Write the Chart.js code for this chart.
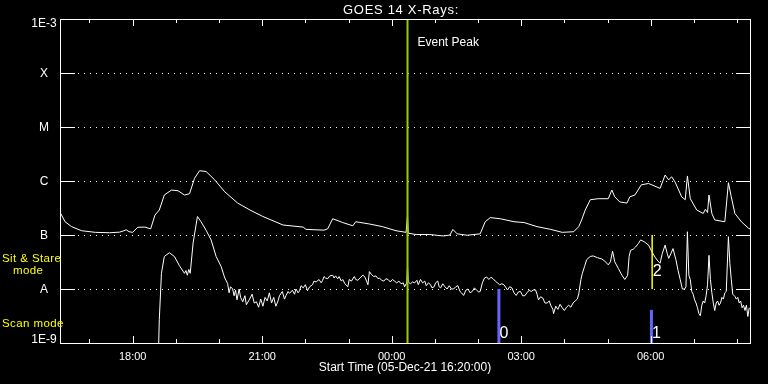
<!DOCTYPE html>
<html><head><meta charset="utf-8">
<script src="https://cdn.jsdelivr.net/npm/chart.js@4/dist/chart.umd.min.js"></script>
<style>html,body{margin:0;padding:0;background:#000;}#wrap{width:768px;height:384px;}</style>
</head><body><div id="wrap"><canvas id="c" width="768" height="384"></canvas></div>
<script>
const titleText = "GOES 14 X-Rays:";
const axisTitle = "Start Time (05-Dec-21 16:20:00)";
// time axis: minutes after 16:20 on 05-Dec-21
const xMajorTicks = [100, 280, 460, 640, 820];
const xTickLabels = ["18:00", "21:00", "00:00", "03:00", "06:00"];
const xMinorTicks = [40,160,220,340,400,520,580,700,760,880,940];
const yTickValues = [1e-9, 1e-8, 1e-7, 1e-6, 1e-5, 1e-4, 1e-3];
const yTickLabels = ["1E-9", "A", "B", "C", "M", "X", "1E-3"];
const modeLabels = ["Sit & Stare", "mode", "Scan mode"];

// GOES long channel (1-8 A), W/m^2
const longTimes = [0,6,15,29,48,68,82,88,91,95,100,107,117,125,131,137,144,154,163,172,179,186,193,202,214,228,246,263,281,309,337,341,366,371,378,392,406,410,429,447,466,480,481,482,483,494,513,532,541,545,551,565,583,590,597,611,630,644,662,681,697,713,720,724,729,736,747,761,766,770,777,787,791,798,807,817,833,840,845,849,854,863,868,871,875,884,893,896,899,901,905,909,923,928,932,937,946,956,958];
const longFlux = [2.5e-7,1.76e-7,1.43e-7,1.2e-7,1.12e-7,1.1e-7,1.13e-7,1.2e-7,1.25e-7,1.15e-7,1.12e-7,1.39e-7,1.4e-7,1.3e-7,2.34e-7,2.9e-7,5.5e-7,6.8e-7,6.6e-7,5.5e-7,5.8e-7,1.12e-6,1.55e-6,1.5e-6,1.05e-6,6.3e-7,3.9e-7,2.9e-7,2.2e-7,1.53e-7,1.4e-7,1.27e-7,1.23e-7,1.3e-7,2.0e-7,1.7e-7,1.48e-7,1.76e-7,1.6e-7,1.43e-7,1.2e-7,1.12e-7,1.12e-7,2.3e-7,1.08e-7,1.02e-7,1.02e-7,9.6e-8,1.0e-7,1.27e-7,1.05e-7,9.9e-8,1.05e-7,1.76e-7,2.1e-7,2.0e-7,1.76e-7,1.7e-7,1.43e-7,1.27e-7,1.12e-7,1.15e-7,1.43e-7,1.9e-7,2.9e-7,4.5e-7,4.7e-7,4.7e-7,6.8e-7,5.1e-7,4.1e-7,3.9e-7,5.1e-7,5.5e-7,8.5e-7,9.0e-7,7.3e-7,1.29e-6,1.05e-6,1.2e-6,9.5e-7,5.1e-7,4.5e-7,1.24e-6,4.7e-7,2.9e-7,2.5e-7,3.0e-7,2.6e-7,5.5e-7,2.5e-7,1.9e-7,1.76e-7,9.3e-7,5.1e-7,2.5e-7,1.76e-7,1.33e-7,1.3e-7];

// GOES short channel (0.5-4 A), W/m^2
const shortTimes = [136,137,140,144,151,158,165,172,174,176,178,180,184,190,195,202,209,216,223,228,232,234,236,239,241,243,245,248,250,253,256,258,262,266,269,272,275,278,281,284,287,290,293,296,299,302,304,308,311,313,316,318,322,325,327,330,332,334,337,340,343,346,350,352,355,359,362,364,366,368,371,374,378,380,382,385,387,390,392,395,399,401,404,408,410,413,416,420,423,425,427,429,432,435,438,441,443,446,449,452,455,458,461,464,467,470,473,476,478,480,481,482,483,486,489,492,495,497,500,503,506,508,511,514,516,519,521,524,526,528,531,534,537,540,543,546,549,552,555,557,560,563,566,569,572,575,578,581,583,586,589,592,595,598,601,604,607,610,613,616,619,621,624,627,630,633,636,639,642,645,648,651,654,657,660,662,664,667,670,673,676,679,681,684,685,688,691,694,697,700,703,706,709,712,715,718,720,723,725,728,731,736,740,746,752,756,761,764,767,770,775,780,784,788,790,792,796,799,803,806,811,817,822,826,830,833,836,840,843,845,848,851,855,858,861,864,867,869,871,873,875,877,879,881,883,885,887,889,891,893,895,897,899,901,903,905,907,909,911,913,915,917,919,921,923,925,928,930,932,934,937,939,941,943,945,947,949,951,953,955,957];
const shortFlux = [8e-10,2.7e-9,1.95e-8,4.0e-8,4.7e-8,4.0e-8,2.7e-8,1.95e-8,2.2e-8,1.8e-8,2.3e-8,1.95e-8,7.1e-8,2.2e-7,1.76e-7,1.23e-7,8.1e-8,4.0e-8,2.6e-8,1.6e-8,1.26e-8,8.5e-9,1.1e-8,1.0e-8,7.5e-9,9.5e-9,6.3e-9,1.0e-8,7e-9,5.8e-9,7.5e-9,5.1e-9,6.3e-9,8e-9,5.5e-9,5.8e-9,4.6e-9,6.5e-9,4.8e-9,7e-9,6e-9,8.5e-9,5.5e-9,7e-9,4.8e-9,6e-9,7.5e-9,9e-9,6.5e-9,7.5e-9,9e-9,8.3e-9,9.5e-9,8e-9,1.0e-8,8.5e-9,9.3e-9,1.15e-8,1.05e-8,1.2e-8,9.3e-9,1.1e-8,1.2e-8,1.4e-8,1.35e-8,1.5e-8,1.3e-8,1.45e-8,1.7e-8,1.6e-8,1.55e-8,1.75e-8,1.8e-8,1.6e-8,1.75e-8,1.55e-8,1.7e-8,1.4e-8,1.5e-8,1.25e-8,1.1e-8,1.5e-8,1.4e-8,1.7e-8,1.5e-8,1.45e-8,1.6e-8,1.8e-8,1.65e-8,1.4e-8,1.2e-8,2.1e-8,1.85e-8,1.7e-8,1.75e-8,1.55e-8,1.6e-8,1.45e-8,1.4e-8,1.55e-8,1.5e-8,1.35e-8,1.5e-8,1.4e-8,1.3e-8,1.4e-8,1.25e-8,1.3e-8,1.1e-8,1.25e-8,1.3e-8,2.6e-8,1.35e-8,1.25e-8,1.35e-8,1.3e-8,1.45e-8,1.2e-8,1.5e-8,1.3e-8,1.4e-8,1.15e-8,1.3e-8,1.2e-8,1.05e-8,1.1e-8,1.3e-8,1.4e-8,1.1e-8,1.05e-8,1.25e-8,1.1e-8,1.0e-8,1.15e-8,1.0e-8,1.0e-8,1.1e-8,1.15e-8,9e-9,8.5e-9,7.6e-9,9.5e-9,1.0e-8,8.5e-9,9e-9,1.05e-8,9.5e-9,8.8e-9,9e-9,1.3e-8,1.6e-8,1.67e-8,1.5e-8,1.65e-8,1.55e-8,1.4e-8,1.3e-8,1.2e-8,1.25e-8,1.2e-8,1.05e-8,9.6e-9,1.1e-8,1.05e-8,8.5e-9,7.6e-9,8.8e-9,9e-9,7.5e-9,7.5e-9,8.5e-9,9.5e-9,9e-9,9.6e-9,9.6e-9,8e-9,6.3e-9,7.2e-9,6.8e-9,5.5e-9,5.5e-9,6e-9,5e-9,4.2e-9,3.5e-9,4.8e-9,4.2e-9,5.2e-9,4.5e-9,4e-9,4.6e-9,5e-9,4.6e-9,5.5e-9,6e-9,6.5e-9,8.1e-9,1.5e-8,1.95e-8,2.6e-8,3.5e-8,4.0e-8,4.1e-8,3.8e-8,3.6e-8,3.3e-8,2.8e-8,3.2e-8,5.0e-8,3.2e-8,2.4e-8,1.8e-8,1.5e-8,1.8e-8,4e-8,5.2e-8,5.5e-8,6e-8,7e-8,8.1e-8,7.5e-8,6.5e-8,4.8e-8,3.9e-8,3.3e-8,3.0e-8,4.5e-8,6.5e-8,4.5e-8,3.7e-8,4.5e-8,5.6e-8,3.5e-8,2.2e-8,1.5e-8,1.0e-8,1.0e-8,1.1e-8,1.15e-7,1.8e-8,1.5e-8,9e-9,8e-9,6.3e-9,5.5e-9,4.5e-9,3.5e-9,3.2e-9,5e-9,6e-9,5.5e-9,7.5e-9,1.2e-8,4.2e-8,1.5e-8,8.5e-9,5.5e-9,4e-9,5.5e-9,6e-9,5e-9,5.5e-9,7e-9,6.5e-9,8.5e-9,9e-9,9.3e-8,3e-8,1.5e-8,8e-9,7.3e-9,6.5e-9,7e-9,5.5e-9,6e-9,4.5e-9,5e-9,4e-9,5e-9,3.1e-9,4.5e-9];

// event markers
const eventPeakTime = 482;
const eventLabel = "Event Peak";
const scanTimes = [609, 821];
const scanTops = [1e-8, 4.1e-9];
const scanNames = ["0", "1"];
const stareTimes = [822];
const stareRanges = [[1e-8, 1e-7]];
const stareNames = ["2"];

const FONT = "'Liberation Sans', Arial, sans-serif";
const pts = (xs, ys) => xs.map((t, i) => ({x: t, y: ys[i]}));

const datasets = [];
datasets.push({data: [{x: eventPeakTime, y: 1e-9}, {x: eventPeakTime, y: 1e-3}], borderColor: '#9ccc00', borderWidth: 2});
scanTimes.forEach((t, i) => datasets.push({data: [{x: t, y: 1e-9}, {x: t, y: scanTops[i]}], borderColor: '#6464ff', borderWidth: 3, borderCapStyle: 'butt'}));
stareTimes.forEach((t, i) => datasets.push({data: [{x: t, y: stareRanges[i][0]}, {x: t, y: stareRanges[i][1]}], borderColor: '#ffff00', borderWidth: 1.5}));
datasets.push({data: pts(longTimes, longFlux), borderColor: '#ffffff', borderWidth: 1});
datasets.push({data: pts(shortTimes, shortFlux), borderColor: '#ffffff', borderWidth: 1});
datasets.forEach(d => { d.pointRadius = 0; d.tension = 0; d.fill = false; d.clip = 0; });

const decor = {
  id: 'decor',
  beforeDraw(chart) {
    const c = chart.ctx;
    c.save(); c.fillStyle = '#000'; c.fillRect(0, 0, chart.width, chart.height); c.restore();
  },
  beforeDatasetsDraw(chart) {
    const {ctx, chartArea: a, scales: {y}} = chart;
    ctx.save();
    ctx.strokeStyle = '#fff'; ctx.lineWidth = 1;
    yTickValues.slice(1, -1).forEach(v => {
      const py = Math.round(y.getPixelForValue(v)) + 0.5;
      ctx.setLineDash([]);
      ctx.beginPath();
      ctx.moveTo(a.left, py); ctx.lineTo(a.left + 15, py);
      ctx.moveTo(a.right - 14, py); ctx.lineTo(a.right, py);
      ctx.stroke();
      ctx.setLineDash([1, 5]);
      ctx.beginPath(); ctx.moveTo(a.left + 18, py); ctx.lineTo(a.right - 15, py); ctx.stroke();
    });
    ctx.restore();
  },
  afterDatasetsDraw(chart) {
    const {ctx, chartArea: a, scales: {x, y}} = chart;
    ctx.save();
    ctx.strokeStyle = '#fff'; ctx.lineWidth = 1; ctx.setLineDash([]);
    ctx.strokeRect(a.left + 0.5, a.top + 0.5, a.right - a.left, a.bottom - a.top);
    const tick = (t, len) => {
      const px = Math.round(x.getPixelForValue(t)) + 0.5;
      ctx.moveTo(px, a.top); ctx.lineTo(px, a.top + len);
      ctx.moveTo(px, a.bottom); ctx.lineTo(px, a.bottom - len);
    };
    ctx.beginPath();
    xMajorTicks.forEach(t => tick(t, 7));
    xMinorTicks.forEach(t => tick(t, 4));
    ctx.stroke();

    ctx.fillStyle = '#fff';
    ctx.font = '12px ' + FONT;
    ctx.textAlign = 'center'; ctx.textBaseline = 'middle';
    yTickValues.forEach((v, i) => {
      let py = y.getPixelForValue(v) + 1;
      py = Math.max(a.top + 4.5, Math.min(a.bottom - 3, py));
      ctx.fillText(yTickLabels[i], a.left - 16, py);
    });
    // title
    ctx.font = '13px ' + FONT;
    ctx.letterSpacing = '0.7px';
    ctx.fillText(titleText, (a.left + a.right) / 2 - 4, 10);
    ctx.letterSpacing = '0px';
    // marker labels
    ctx.font = '12px ' + FONT;
    ctx.textAlign = 'left';
    ctx.fillText(eventLabel, x.getPixelForValue(eventPeakTime) + 10, a.top + 24);
    ctx.font = '16px ' + FONT;
    ctx.textAlign = 'center';
    scanTimes.forEach((t, i) => ctx.fillText(scanNames[i], x.getPixelForValue(t) + 5, a.bottom - 9));
    stareTimes.forEach((t, i) => ctx.fillText(stareNames[i], x.getPixelForValue(t) + 5, y.getPixelForValue(stareRanges[i][0]) - 17));
    // mode labels
    ctx.fillStyle = '#ffff00';
    ctx.textAlign = 'left';
    ctx.font = '11.5px ' + FONT;
    ctx.letterSpacing = '0.4px';
    ctx.fillText(modeLabels[0], 2, y.getPixelForValue(1e-8) - 30);
    ctx.fillText(modeLabels[1], 13, y.getPixelForValue(1e-8) - 18);
    ctx.fillText(modeLabels[2], 2, a.bottom - 19);
    ctx.restore();
  }
};

new Chart(document.getElementById('c'), {
  type: 'line',
  data: {datasets},
  options: {
    responsive: false, animation: false, devicePixelRatio: 1,
    layout: {padding: {left: 60, right: 18, top: 19, bottom: 0}},
    plugins: {legend: {display: false}, tooltip: {enabled: false}, title: {display: false}},
    scales: {
      x: {
        type: 'linear', min: -1, max: 958,
        grid: {display: false, drawTicks: false}, border: {display: false},
        afterBuildTicks: s => { s.ticks = xMajorTicks.map(v => ({value: v})); },
        ticks: {color: '#fff', font: {family: FONT, size: 11}, padding: 7, maxRotation: 0, autoSkip: false,
                callback: (v, i) => xTickLabels[i]},
        title: {display: true, text: axisTitle, color: '#fff', font: {family: FONT, size: 12}, padding: {top: 0, bottom: 9}},
        afterFit: s => { s.height = 41; }
      },
      y: {type: 'logarithmic', min: 1e-9, max: 1e-3, display: false}
    }
  },
  plugins: [decor]
});
</script>
</body></html>
